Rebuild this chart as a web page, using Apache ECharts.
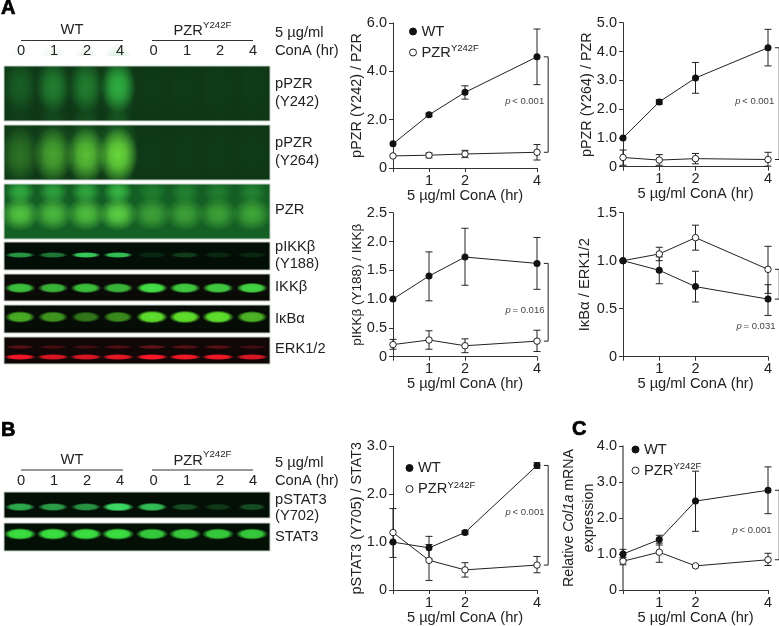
<!DOCTYPE html>
<html><head><meta charset="utf-8">
<style>html,body{margin:0;padding:0;background:#fff}#c{width:779px;height:626px}</style>
<script src="https://cdn.jsdelivr.net/npm/echarts@6/dist/echarts.min.js"></script>
</head><body><div id="c"></div>
<script>
const hours = [0, 1, 2, 4];
const WT = 'WT', KO = 'PZR Y242F';
const xTitle = '5 \u00b5g/ml ConA (hr)';

const p1Wt = [1.0, 2.2, 3.13, 4.6];
const p1WtErr = [null, [2.13, 2.27], [2.85, 3.4], [3.45, 5.75]];
const p1Ko = [0.5, 0.53, 0.58, 0.65];
const p1KoErr = [null, [0.42, 0.62], [0.43, 0.73], [0.33, 0.97]];

const p2Wt = [1.0, 2.25, 3.08, 4.13];
const p2WtErr = [null, [2.17, 2.33], [2.55, 3.62], [3.5, 4.77]];
const p2Ko = [0.32, 0.23, 0.28, 0.25];
const p2KoErr = [[0.05, 0.58], [0.05, 0.42], [0.1, 0.46], [0.02, 0.5]];

const p3Wt = [1.0, 1.4, 1.73, 1.62];
const p3WtErr = [null, [0.97, 1.82], [1.24, 2.23], [1.17, 2.07]];
const p3Ko = [0.21, 0.29, 0.19, 0.27];
const p3KoErr = [[0.13, 0.3], [0.13, 0.45], [0.07, 0.31], [0.09, 0.46]];

const p4Wt = [1.0, 0.9, 0.73, 0.6];
const p4WtErr = [null, [0.76, 1.04], [0.57, 0.89], [0.43, 0.75]];
const p4Ko = [1.0, 1.07, 1.24, 0.91];
const p4KoErr = [null, [1.0, 1.14], [1.11, 1.37], [0.66, 1.15]];

const p5Wt = [1.0, 0.88, 1.2, 2.6];
const p5WtErr = [null, [0.65, 1.12], [1.16, 1.24], [2.54, 2.66]];
const p5Ko = [1.2, 0.62, 0.42, 0.52];
const p5KoErr = [[0.68, 1.7], [0.2, 0.95], [0.27, 0.57], [0.36, 0.7]];

const p6Wt = [1.0, 1.4, 2.47, 2.77];
const p6WtErr = [[0.85, 1.13], [1.25, 1.52], [1.63, 3.3], [2.12, 3.42]];
const p6Ko = [0.8, 1.05, 0.67, 0.84];
const p6KoErr = [[0.7, 0.9], [0.77, 1.3], [0.65, 0.69], [0.68, 1.02]];

const titles = ['pPZR (Y242) / PZR', 'pPZR (Y264) / PZR', 'pIKK\u03b2 (Y188) / IKK\u03b2', 'I\u03baB\u03b1 / ERK1/2', 'pSTAT3 (Y705) / STAT3',
  'Relative {i|Col1a} mRNA\nexpression'];
const maxima = [6, 5, 2.5, 1.5, 3, 4];
const steps = [2, 1, 0.5, 0.5, 1, 1];
const pTexts = ['< 0.001', '< 0.001', '= 0.016', '= 0.031', '< 0.001', '< 0.001'];
const laneLabels = ['0', '1', '2', '4', '0', '1', '2', '4'];

// band intensities for the blot images, one per lane
const y242 = [0.22, 0.42, 0.42, 0.8, 0.02, 0.02, 0.03, 0.03];
const y264 = [0.3, 0.6, 0.8, 1, 0.02, 0.02, 0.02, 0.02];
const pzrLow = [0.85, 0.75, 0.8, 0.95, 0.55, 0.55, 0.55, 0.6];
const pzrUp = [0.75, 0.65, 0.7, 0.85, 0.3, 0.35, 0.3, 0.35];
const pikk = [0.65, 0.5, 0.9, 0.85, 0.12, 0.22, 0.12, 0.12];
const ikk = [0.85, 0.8, 0.85, 0.8, 1, 0.9, 0.9, 0.95];
const ikba = [0.75, 0.65, 0.5, 0.6, 1, 1, 1, 0.8];
const erkLow = [0.95, 0.85, 0.85, 0.9, 1, 0.95, 0.95, 0.85];
const erkUp = [0.3, 0.22, 0.2, 0.25, 0.35, 0.3, 0.3, 0.2];
const pstat = [0.75, 0.7, 0.65, 1, 0.85, 0.3, 0.2, 0.3];
const stat = [1, 1, 1, 1, 0.9, 0.9, 0.9, 0.9];

const laneX = [20, 53, 86, 118, 152, 185, 218, 252];
const FONT = '"Liberation Sans", Arial, sans-serif';
const g = [];
function T(x, y, text, o) {
  g.push({ type: 'text', x, y, z: 5, silent: true, style: Object.assign({ text, fill: '#222', fontFamily: FONT, fontSize: 14.7, verticalAlign: 'middle', textAlign: 'left' }, o || {}) });
}
function rgba(c, a) { return 'rgba(' + c.join(',') + ',' + a + ')'; }
function blob(cx, cy, rx, ry, col, a, sharp) {
  const stops = sharp
    ? [{ offset: 0, color: rgba(col, a) }, { offset: 0.65, color: rgba(col, a * 0.95) }, { offset: 0.88, color: rgba(col, a * 0.3) }, { offset: 1, color: rgba(col, 0) }]
    : [{ offset: 0, color: rgba(col, a) }, { offset: 0.4, color: rgba(col, a * 0.8) }, { offset: 1, color: rgba(col, 0) }];
  g.push({ type: 'circle', x: cx, y: cy, scaleX: rx / 10, scaleY: ry / 10, z: 1, silent: true, shape: { cx: 0, cy: 0, r: 10 },
    style: { fill: { type: 'radial', x: 0.5, y: 0.5, r: 0.5, colorStops: stops } } });
}
function blot(y0, y1, bg) {
  g.push({ type: 'rect', z: 0, silent: true, shape: { x: 4, y: y0, width: 266, height: y1 - y0 }, style: { fill: bg } });
}
function lanes(vals, cy, rx, ry, col, sharp, ratio) {
  vals.forEach((v, i) => blob(laneX[i], cy, rx * (ratio ? 0.85 + 0.15 * v : 1), ry * (ratio ? 0.7 + 0.3 * v : 1), col, v, sharp));
}
blot(66, 121, '#0e3716'); lanes(y242.map(v => v * 0.5), 85, 19, 42, [40, 150, 60], false); lanes(y242, 87, 17.5, 26, [52, 195, 72], false);
blot(125, 180, '#0e3716'); lanes(y264.map(v => v * 0.5), 150, 21, 44, [50, 160, 60], false); lanes(y264, 155, 20, 28, [105, 215, 58], false);
blot(184, 239, '#145f24');
lanes(pzrUp, 192, 15, 13, [60, 195, 72], false); lanes(pzrLow, 214, 20, 17, [95, 215, 70], false);
blot(242, 270, '#030f06'); lanes(pikk, 255, 15, 3, [60, 225, 100], true);
blot(274, 301, '#0a0a06'); lanes(ikk, 288, 16, 5.5, [70, 225, 70], true, true);
blot(305, 333, '#050d06'); lanes(ikba, 317, 16, 6.5, [95, 225, 45], true, true);
blot(337, 364, '#120707'); lanes(erkUp, 347, 15, 2, [255, 40, 50], true); lanes(erkLow, 357, 16.5, 3, [255, 25, 40], true);
blot(492, 518, '#041006'); lanes(pstat, 507, 16, 4.5, [60, 220, 100], true, true);
blot(523, 551, '#041006'); lanes(stat, 534, 16.5, 6, [60, 225, 65], true, true);
// white gaps keep glows inside their own strip
[[56, 10], [121, 4], [180, 4], [239, 3]].forEach(r => {
  g.push({ type: 'rect', z: 2, silent: true, shape: { x: 0, y: r[0], width: 295, height: r[1] }, style: { fill: '#fff' } });
});
[[0, 4, 66, 121], [270, 10, 66, 182]].forEach(r => {
  g.push({ type: 'rect', z: 2, silent: true, shape: { x: r[0], y: r[2], width: r[1], height: r[3] + 2 }, style: { fill: '#fff' } });
});
[[66, 121], [125, 180], [184, 239], [242, 270], [274, 301], [305, 333], [337, 364], [492, 518], [523, 551]].forEach(r => {
  g.push({ type: 'rect', z: 3, silent: true, shape: { x: 4, y: r[0], width: 266, height: r[1] - r[0] }, style: { fill: 'none', stroke: '#c4d0c6', lineWidth: 1 } });
});

function header(dy) {
  T(72, 30 + dy, 'WT', { textAlign: 'center' });
  T(173.5, 31 + dy, 'PZR', {});
  T(203, 25 + dy, 'Y242F', { fontSize: 9.7 });
  [[21, 123], [152, 253]].forEach(s => g.push({ type: 'line', z: 4, silent: true, shape: { x1: s[0], y1: 40.5 + dy, x2: s[1], y2: 40.5 + dy }, style: { stroke: '#333', lineWidth: 1 } }));
  [21, 54, 87, 120, 153.5, 187, 220, 253].forEach((x, i) => T(x, 51 + dy, laneLabels[i], { textAlign: 'center' }));
  T(275, 33 + dy, '5 \u00b5g/ml', {});
  T(275, 51 + dy, 'ConA (hr)', {});
}
header(0); header(429.5);
const heavy = { fontSize: 20, fontWeight: 'bold', fill: '#000', stroke: '#000', lineWidth: 0.7 };
T(1, 8.5, 'A', heavy);
T(1, 430.5, 'B', heavy);
T(572, 429, 'C', heavy);
[['pPZR', 83.5], ['(Y242)', 101.5], ['pPZR', 143], ['(Y264)', 160.5], ['PZR', 210], ['pIKK\u03b2', 247], ['(Y188)', 263.5], ['IKK\u03b2', 287], ['I\u03baB\u03b1', 318.5], ['ERK1/2', 349], ['pSTAT3', 499.5], ['(Y702)', 516], ['STAT3', 536.5]]
  .forEach(a => T(275, a[1], a[0]));

const boxes = [
  { l: 393, t: 23, h: 145, w: 144 }, { l: 623, t: 22.7, h: 144, w: 145 },
  { l: 393, t: 212.7, h: 144, w: 144 }, { l: 623, t: 212.7, h: 144, w: 145 },
  { l: 393, t: 446.3, h: 144.4, w: 144 }, { l: 623, t: 446, h: 145.7, w: 145 }
];
const pPos = [[525.7, 101], [755.7, 101], [526, 310], [757, 326], [526, 512], [753, 530]];
pPos.forEach((p, i) => {
  T(p[0] - 20.5, p[1], 'p', { fontStyle: 'italic', fontSize: 9.5, fill: '#444' });
  T(p[0] - 13.5, p[1], pTexts[i], { fontSize: 9.5, fill: '#444' });
});

const wtAll = [p1Wt, p2Wt, p3Wt, p4Wt, p5Wt, p6Wt];
const koAll = [p1Ko, p2Ko, p3Ko, p4Ko, p5Ko, p6Ko];
const wtErrAll = [p1WtErr, p2WtErr, p3WtErr, p4WtErr, p5WtErr, p6WtErr];
const koErrAll = [p1KoErr, p2KoErr, p3KoErr, p4KoErr, p5KoErr, p6KoErr];
const yGap = [26, 25.5, 26, 28, 26, 24];
const ySize = [14.4, 14.4, 13.5, 14.8, 14.4, 14.2];
const axisCol = ['#333', '#333', '#333', '#333', '#333', '#666'];
const axisW = [1, 1, 1, 1, 1, 1.5];
const bracketEnds = [4.19, 4.31];

const grid = [], xAxis = [], yAxis = [], series = [];
function segs(api, pts) {
  const st = { stroke: '#222', lineWidth: 1 };
  return pts.map(p => ({ type: 'line', shape: { x1: p[0], y1: p[1], x2: p[2], y2: p[3] }, style: st }));
}
function errRender(params, api) {
  const x = api.value(0), lo = api.coord([x, api.value(1)]), hi = api.coord([x, api.value(2)]);
  return { type: 'group', children: segs(api, [[lo[0], lo[1], hi[0], hi[1]], [lo[0] - 3.5, lo[1], lo[0] + 3.5, lo[1]], [hi[0] - 3.5, hi[1], hi[0] + 3.5, hi[1]]]) };
}
function bracketRender(params, api) {
  const a0 = api.coord([bracketEnds[0], api.value(1)]), a1 = api.coord([bracketEnds[1], api.value(1)]);
  const b0 = api.coord([bracketEnds[0], api.value(2)]), b1 = api.coord([bracketEnds[1], api.value(2)]);
  return { type: 'group', children: segs(api, [[a0[0], a0[1], a1[0], a1[1]], [a1[0], a1[1], b1[0], b1[1]], [b0[0], b0[1], b1[0], b1[1]]]) };
}
boxes.forEach((b, i) => {
  grid.push({ left: b.l, top: b.t, width: b.w, height: b.h });
  xAxis.push({
    gridIndex: i, type: 'value', min: 0, max: 4, interval: 1, splitLine: { show: false },
    name: xTitle, nameLocation: 'middle', nameGap: 20, nameMoveOverlap: false, nameTextStyle: { fontFamily: FONT, fontSize: 14.7, color: '#222' },
    axisLine: { lineStyle: { color: '#333', width: 1 } },
    axisTick: { length: 4, customValues: hours, lineStyle: { color: '#333' } },
    axisLabel: { customValues: [1, 2, 4], margin: 5, fontFamily: FONT, fontSize: 14.5, color: '#222', hideOverlap: false }
  });
  yAxis.push({
    gridIndex: i, type: 'value', min: 0, max: maxima[i], interval: steps[i], splitLine: { show: false },
    name: titles[i], nameLocation: 'middle', nameGap: yGap[i], nameRotate: 90, nameMoveOverlap: false,
    nameTextStyle: { fontFamily: FONT, fontSize: ySize[i], color: '#222', lineHeight: 20, rich: { i: { fontStyle: 'italic', fontFamily: FONT, fontSize: ySize[i], color: '#222' } } },
    axisLine: { show: true, lineStyle: { color: axisCol[i], width: axisW[i] } },
    axisTick: { show: true, length: 4, lineStyle: { color: '#333' } },
    axisLabel: { margin: 6, fontFamily: FONT, fontSize: 14.5, color: '#222', formatter: v => v === 0 ? '0' : v.toFixed(1) }
  });
  const errData = (e) => e.map((v, k) => v ? [hours[k], v[0], v[1]] : null).filter(Boolean);
  const pairs = (vals) => vals.map((v, k) => [hours[k], v]);
  const lineBase = { type: 'line', xAxisIndex: i, yAxisIndex: i, symbol: 'circle', lineStyle: { color: '#222', width: 1 }, clip: false, z: 3 };
  const wtFirst = i === 3;
  const wtS = Object.assign({}, lineBase, { name: WT, data: pairs(wtAll[i]), symbolSize: 7, itemStyle: { color: '#111', borderColor: '#111', borderWidth: 0 }, z: wtFirst ? 5 : 4 });
  const koS = Object.assign({}, lineBase, { name: KO, data: pairs(koAll[i]), symbolSize: 6.5, itemStyle: { color: '#fff', borderColor: '#222', borderWidth: 1 }, z: wtFirst ? 4 : 5 });
  series.push({ type: 'custom', name: 'WT error', xAxisIndex: i, yAxisIndex: i, clip: false, z: 2, renderItem: errRender, encode: { x: 0, y: [1, 2] }, data: errData(wtErrAll[i]) });
  series.push({ type: 'custom', name: 'PZR error', xAxisIndex: i, yAxisIndex: i, clip: false, z: 2, renderItem: errRender, encode: { x: 0, y: [1, 2] }, data: errData(koErrAll[i]) });
  series.push(wtS, koS);
  series.push({ type: 'custom', name: 'bracket', xAxisIndex: i, yAxisIndex: i, clip: false, silent: true, z: 1, renderItem: bracketRender,
    encode: { x: 0, y: [1, 2] }, data: [[hours[3], wtAll[i][3], koAll[i][3]]] });
});

const legRich = { s: { fontSize: 9.5, fontFamily: FONT, color: '#222', verticalAlign: 'top', lineHeight: 18 } };
const legend = [[409, 23.5], [405.5, 460], [631.5, 441.5]].map(p => ({
  left: p[0], top: p[1], orient: 'vertical', itemWidth: 7, itemHeight: 7, itemGap: 4, selectedMode: false,
  icon: 'circle', data: [WT, KO], padding: 0, align: 'left',
  itemStyle: { borderWidth: 1 },
  formatter: n => n === WT ? 'WT' : 'PZR{s|Y242F}',
  textStyle: { fontFamily: FONT, fontSize: 14.7, color: '#222', lineHeight: 16, rich: legRich }
}));

const chart = echarts.init(document.getElementById('c'), null, { renderer: 'canvas' });
chart.setOption({ animation: false, backgroundColor: '#fff', grid, xAxis, yAxis, series, legend, graphic: { elements: g } });
</script></body></html>
